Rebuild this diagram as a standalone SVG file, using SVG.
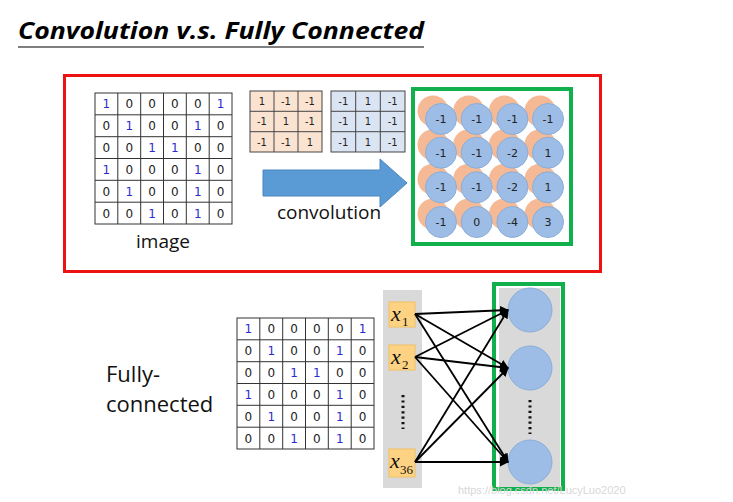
<svg xmlns="http://www.w3.org/2000/svg" xmlns:xlink="http://www.w3.org/1999/xlink" width="733" height="502" viewBox="0 0 733 502">
<style>
.title{font-family:"Open Sans","Liberation Sans",sans-serif;font-weight:bold;font-style:italic;font-size:24px;fill:#000}
.lbl{font-family:"Open Sans","Liberation Sans",sans-serif;fill:#111}
.gc{fill:#fff;stroke:#333;stroke-width:1}
.g0{font-family:"DejaVu Sans",sans-serif;font-size:12px;fill:#222;text-anchor:middle}
.g1{font-family:"DejaVu Sans",sans-serif;font-size:12px;fill:#2b2bd0;text-anchor:middle}
.ft{font-family:"DejaVu Sans",sans-serif;font-size:10px;fill:#222;text-anchor:middle}
.oc{fill:#f5b995;stroke:none}
.bc{fill:#9dbde6;stroke:#8aaed8;stroke-width:1}
.ct{font-family:"DejaVu Sans",sans-serif;font-size:11px;fill:#222;text-anchor:middle}
.xb{fill:#fdd383;stroke:#f2c063;stroke-width:1}
.xt{font-family:"Liberation Serif",serif;font-style:italic;font-size:22px;fill:#111}
.xs{font-family:"Liberation Serif",serif;font-size:13px;fill:#111}
.edge{stroke:#000;stroke-width:1.8;fill:none;marker-end:url(#ah)}
.dots{stroke:#111;stroke-width:3;stroke-dasharray:2.2 3.2;fill:none}
</style>
<defs>
<marker id="ah" viewBox="0 0 10 10" refX="9" refY="5" markerWidth="5" markerHeight="5" orient="auto" markerUnits="strokeWidth">
<path d="M0,0 L10,5 L0,10 z" fill="#000"/>
</marker>
<g id="grid">
<rect class="gc" x="0" y="0" width="137" height="131"/>
<path d="M22.8,0V131M45.7,0V131M68.5,0V131M91.3,0V131M114.2,0V131M0,21.8H137M0,43.7H137M0,65.5H137M0,87.3H137M0,109.2H137" stroke="#333" stroke-width="1" fill="none"/>
<text class="g1" x="11.4" y="15.3">1</text><text class="g0" x="34.3" y="15.3">0</text><text class="g0" x="57.1" y="15.3">0</text><text class="g0" x="79.9" y="15.3">0</text><text class="g0" x="102.8" y="15.3">0</text><text class="g1" x="125.6" y="15.3">1</text>
<text class="g0" x="11.4" y="37.2">0</text><text class="g1" x="34.3" y="37.2">1</text><text class="g0" x="57.1" y="37.2">0</text><text class="g0" x="79.9" y="37.2">0</text><text class="g1" x="102.8" y="37.2">1</text><text class="g0" x="125.6" y="37.2">0</text>
<text class="g0" x="11.4" y="59">0</text><text class="g0" x="34.3" y="59">0</text><text class="g1" x="57.1" y="59">1</text><text class="g1" x="79.9" y="59">1</text><text class="g0" x="102.8" y="59">0</text><text class="g0" x="125.6" y="59">0</text>
<text class="g1" x="11.4" y="80.8">1</text><text class="g0" x="34.3" y="80.8">0</text><text class="g0" x="57.1" y="80.8">0</text><text class="g0" x="79.9" y="80.8">0</text><text class="g1" x="102.8" y="80.8">1</text><text class="g0" x="125.6" y="80.8">0</text>
<text class="g0" x="11.4" y="102.7">0</text><text class="g1" x="34.3" y="102.7">1</text><text class="g0" x="57.1" y="102.7">0</text><text class="g0" x="79.9" y="102.7">0</text><text class="g1" x="102.8" y="102.7">1</text><text class="g0" x="125.6" y="102.7">0</text>
<text class="g0" x="11.4" y="124.5">0</text><text class="g0" x="34.3" y="124.5">0</text><text class="g1" x="57.1" y="124.5">1</text><text class="g0" x="79.9" y="124.5">0</text><text class="g1" x="102.8" y="124.5">1</text><text class="g0" x="125.6" y="124.5">0</text>
</g>
</defs>
<rect width="733" height="502" fill="#fff"/>

<g id="title">
<text class="title" x="18" y="39" textLength="406" lengthAdjust="spacingAndGlyphs">Convolution v.s. Fully Connected</text>
<line x1="18" y1="47" x2="424" y2="47" stroke="#555" stroke-width="1.5"/>
</g>

<g id="conv-frame">
<rect x="64.5" y="75.5" width="536" height="196" fill="none" stroke="#ee1111" stroke-width="3"/>
</g>

<g id="image">
<use xlink:href="#grid" x="95" y="93"/>
<text class="lbl" x="163" y="248" font-size="19" text-anchor="middle">image</text>
</g>

<g id="filter1">
<rect x="250" y="91" width="72" height="61" fill="#fbe3d2" stroke="#444" stroke-width="1"/>
<path d="M274,91V152M298,91V152M250,111.3H322M250,131.7H322" stroke="#444" stroke-width="1" fill="none"/>
<text class="ft" x="262" y="105">1</text><text class="ft" x="286" y="105">-1</text><text class="ft" x="310" y="105">-1</text>
<text class="ft" x="262" y="125.3">-1</text><text class="ft" x="286" y="125.3">1</text><text class="ft" x="310" y="125.3">-1</text>
<text class="ft" x="262" y="145.6">-1</text><text class="ft" x="286" y="145.6">-1</text><text class="ft" x="310" y="145.6">1</text>
</g>

<g id="filter2">
<rect x="331" y="91" width="74" height="61" fill="#dbe4f2" stroke="#444" stroke-width="1"/>
<path d="M355.7,91V152M380.3,91V152M331,111.3H405M331,131.7H405" stroke="#444" stroke-width="1" fill="none"/>
<text class="ft" x="343.3" y="105">-1</text><text class="ft" x="368" y="105">1</text><text class="ft" x="392.7" y="105">-1</text>
<text class="ft" x="343.3" y="125.3">-1</text><text class="ft" x="368" y="125.3">1</text><text class="ft" x="392.7" y="125.3">-1</text>
<text class="ft" x="343.3" y="145.6">-1</text><text class="ft" x="368" y="145.6">1</text><text class="ft" x="392.7" y="145.6">-1</text>
</g>

<g id="conv-arrow">
<path d="M263,170H380V159L407,183L380,207V196H263Z" fill="#5b9bd5" stroke="#4a86bf" stroke-width="1"/>
<text class="lbl" x="329" y="219" font-size="19" text-anchor="middle">convolution</text>
</g>

<g id="feature-map">
<rect x="413" y="89" width="158" height="155" fill="none" stroke="#12b04c" stroke-width="4"/>
<g>
<circle class="oc" cx="433" cy="111" r="15.5"/><circle class="oc" cx="468.7" cy="111" r="15.5"/><circle class="oc" cx="504.4" cy="111" r="15.5"/><circle class="oc" cx="540" cy="111" r="15.5"/>
<circle class="oc" cx="433" cy="144.7" r="15.5"/><circle class="oc" cx="468.7" cy="144.7" r="15.5"/><circle class="oc" cx="504.4" cy="144.7" r="15.5"/><circle class="oc" cx="540" cy="144.7" r="15.5"/>
<circle class="oc" cx="433" cy="179.3" r="15.5"/><circle class="oc" cx="468.7" cy="179.3" r="15.5"/><circle class="oc" cx="504.4" cy="179.3" r="15.5"/><circle class="oc" cx="540" cy="179.3" r="15.5"/>
<circle class="oc" cx="433" cy="214" r="15.5"/><circle class="oc" cx="468.7" cy="214" r="15.5"/><circle class="oc" cx="504.4" cy="214" r="15.5"/><circle class="oc" cx="540" cy="214" r="15.5"/>
</g>
<g>
<circle class="bc" cx="441" cy="119" r="15.5"/><circle class="bc" cx="476.7" cy="119" r="15.5"/><circle class="bc" cx="512.4" cy="119" r="15.5"/><circle class="bc" cx="548" cy="119" r="15.5"/>
<circle class="bc" cx="441" cy="152.7" r="15.5"/><circle class="bc" cx="476.7" cy="152.7" r="15.5"/><circle class="bc" cx="512.4" cy="152.7" r="15.5"/><circle class="bc" cx="548" cy="152.7" r="15.5"/>
<circle class="bc" cx="441" cy="187.3" r="15.5"/><circle class="bc" cx="476.7" cy="187.3" r="15.5"/><circle class="bc" cx="512.4" cy="187.3" r="15.5"/><circle class="bc" cx="548" cy="187.3" r="15.5"/>
<circle class="bc" cx="441" cy="222" r="15.5"/><circle class="bc" cx="476.7" cy="222" r="15.5"/><circle class="bc" cx="512.4" cy="222" r="15.5"/><circle class="bc" cx="548" cy="222" r="15.5"/>
</g>
<text class="ct" x="441" y="123">-1</text><text class="ct" x="476.7" y="123">-1</text><text class="ct" x="512.4" y="123">-1</text><text class="ct" x="548" y="123">-1</text>
<text class="ct" x="441" y="156.7">-1</text><text class="ct" x="476.7" y="156.7">-1</text><text class="ct" x="512.4" y="156.7">-2</text><text class="ct" x="548" y="156.7">1</text>
<text class="ct" x="441" y="191.3">-1</text><text class="ct" x="476.7" y="191.3">-1</text><text class="ct" x="512.4" y="191.3">-2</text><text class="ct" x="548" y="191.3">1</text>
<text class="ct" x="441" y="226">-1</text><text class="ct" x="476.7" y="226">0</text><text class="ct" x="512.4" y="226">-4</text><text class="ct" x="548" y="226">3</text>
</g>

<g id="fc-label">
<text class="lbl" x="106" y="382" font-size="22">Fully-</text>
<text class="lbl" x="106" y="412" font-size="22">connected</text>
</g>

<g id="image2">
<use xlink:href="#grid" x="237" y="318"/>
</g>

<g id="input-layer">
<rect x="383" y="290" width="39" height="198" fill="#d9d9d9"/>
<rect class="xb" x="389" y="302" width="26" height="25"/>
<text class="xt" x="391" y="321">x</text><text class="xs" x="402" y="326">1</text>
<rect class="xb" x="389" y="345" width="26" height="25"/>
<text class="xt" x="391" y="364">x</text><text class="xs" x="402" y="369">2</text>
<line class="dots" x1="403" y1="395" x2="403" y2="429"/>
<rect class="xb" x="389" y="449" width="26" height="28"/>
<text class="xt" x="390" y="468">x</text><text class="xs" x="400" y="474">36</text>
</g>

<g id="output-layer">
<rect x="499" y="288" width="61" height="200" fill="#d9d9d9"/>
<circle cx="530" cy="310" r="22" fill="#9dbde6" stroke="#8aaed8"/>
<circle cx="530" cy="368" r="22" fill="#9dbde6" stroke="#8aaed8"/>
<line class="dots" x1="530" y1="400" x2="530" y2="434"/>
<circle cx="530" cy="462" r="22" fill="#9dbde6" stroke="#8aaed8"/>
<rect x="494" y="284" width="69" height="205" fill="none" stroke="#12b04c" stroke-width="4"/>
</g>

<g id="connectors">
<line class="edge" x1="415" y1="314" x2="508" y2="310"/>
<line class="edge" x1="415" y1="314" x2="508" y2="368"/>
<line class="edge" x1="415" y1="314" x2="508" y2="462"/>
<line class="edge" x1="415" y1="357" x2="508" y2="310"/>
<line class="edge" x1="415" y1="357" x2="508" y2="368"/>
<line class="edge" x1="415" y1="357" x2="508" y2="462"/>
<line class="edge" x1="415" y1="462" x2="508" y2="310"/>
<line class="edge" x1="415" y1="462" x2="508" y2="368"/>
<line class="edge" x1="415" y1="462" x2="508" y2="462"/>
</g>

<g id="watermark">
<text x="458" y="494" font-family="Liberation Sans, sans-serif" font-size="11" fill="#d8d8d8">https://blog.csdn.net/LucyLuo2020</text>
</g>
</svg>
